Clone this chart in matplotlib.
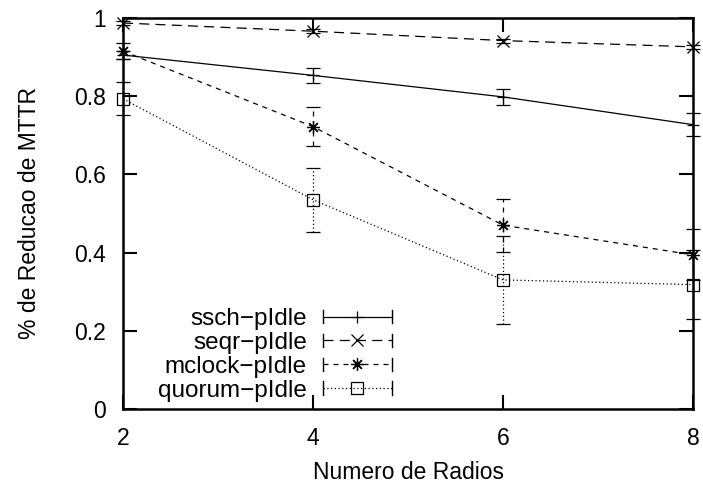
import matplotlib.pyplot as plt
from matplotlib.legend_handler import HandlerLine2D
from matplotlib.lines import Line2D

plt.rcParams['font.family'] = ['Liberation Sans', 'DejaVu Sans']

radios = [2, 4, 6, 8]

ssch = [0.905, 0.853, 0.798, 0.727]
ssch_err = [0.01, 0.02, 0.02, 0.03]

seqr = [0.987, 0.966, 0.942, 0.926]
seqr_err = [0.005, 0.005, 0.005, 0.005]

mclock = [0.915, 0.722, 0.470, 0.394]
mclock_err = [0.02, 0.05, 0.068, 0.065]

quorum = [0.793, 0.535, 0.330, 0.318]
quorum_err = [0.042, 0.082, 0.112, 0.088]

labels = ["ssch\u2212pIdle", "seqr\u2212pIdle", "mclock\u2212pIdle", "quorum\u2212pIdle"]
series = [(ssch, ssch_err), (seqr, seqr_err), (mclock, mclock_err), (quorum, quorum_err)]
markers = ['+', 'x', (8, 2, 0), 's']
dashes = [None, (8, 5), (4, 4), (1, 2)]


class CapHandler(HandlerLine2D):
    # gnuplot-like key sample: line with marker and a small bar at both ends
    def create_artists(self, legend, orig_handle, xdescent, ydescent,
                       width, height, fontsize, trans):
        artists = super().create_artists(legend, orig_handle, xdescent, ydescent,
                                         width, height, fontsize, trans)
        y = height / 2 - ydescent
        for x in (-xdescent, width - xdescent):
            cap = Line2D([x, x], [y - 5, y + 5], color='black', lw=1,
                         transform=trans)
            artists.append(cap)
        return artists


fig = plt.figure(figsize=(7.03, 4.84), dpi=100)
ax = fig.add_axes([0.175, 0.155, 0.811, 0.808])

handles = []
for (vals, errs), lab, mk, ds in zip(series, labels, markers, dashes):
    ls = '-' if ds is None else (0, ds)
    eb = ax.errorbar(radios, vals, yerr=errs, color='black', lw=0.9,
                     marker=mk, markersize=9, markerfacecolor='none',
                     markeredgewidth=0.9, capsize=5, elinewidth=0.9,
                     linestyle=ls, clip_on=False)
    for bar in eb[2]:
        bar.set_linestyle(ls)
        bar.set_clip_on(False)
    for cap in eb[1]:
        cap.set_clip_on(False)
    handles.append(Line2D([], [], color='black', lw=0.9, linestyle=ls,
                          marker=mk, markersize=9, markerfacecolor='none',
                          markeredgewidth=0.9, label=lab))

ax.set_xlim(2, 8)
ax.set_ylim(0, 1)
ax.set_xticks([2, 4, 6, 8])
ax.set_yticks([0, 0.2, 0.4, 0.6, 0.8, 1])
ax.set_yticklabels(['0', '0.2', '0.4', '0.6', '0.8', '1'])
ax.tick_params(direction='in', length=10, width=1.5, labelsize=16.5,
               top=True, right=True)
ax.tick_params(axis='x', pad=13)
ax.tick_params(axis='y', pad=12)
for sp in ax.spines.values():
    sp.set_linewidth(1.8)

ax.set_xlabel("Numero de Radios", fontsize=16.5, labelpad=8)
ax.set_ylabel("% de Reducao de MTTR", fontsize=16.5, labelpad=24)

ax.legend(handles=handles, loc='lower right', bbox_to_anchor=(0.493, -0.013),
          frameon=False, markerfirst=False, fontsize=17.5, handlelength=2.85,
          handletextpad=0.65, labelspacing=0.08, borderpad=0,
          handler_map={Line2D: CapHandler()})

plt.savefig("out.png")
